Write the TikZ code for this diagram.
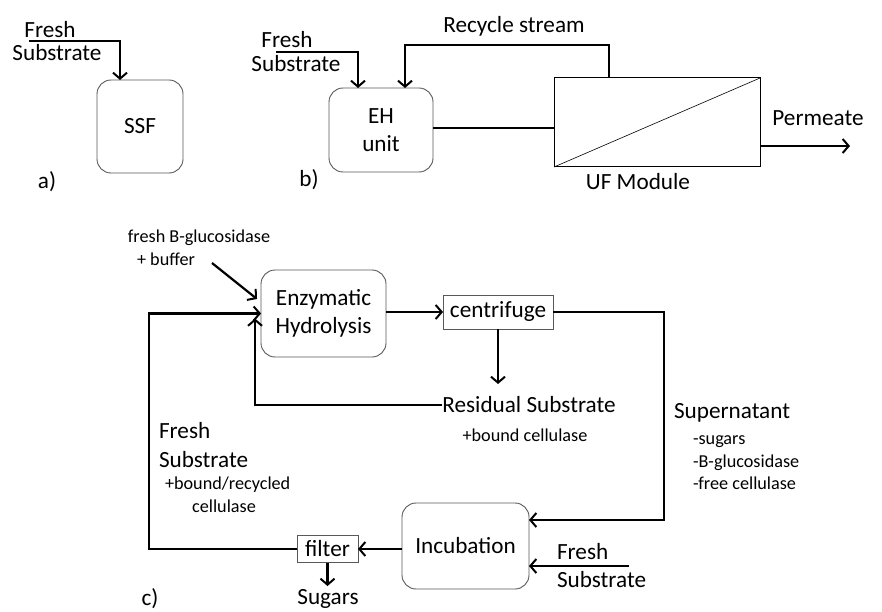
\documentclass[tikz,border=0pt]{standalone}
\usepackage{fontspec}
\setmainfont{Carlito}
\usetikzlibrary{arrows.meta}
\begin{document}
\begin{tikzpicture}[x=1pt,y=-1pt,
  big/.style={font=\fontsize{23.2}{27.5}\selectfont, inner sep=0pt, outer sep=0pt},
  small/.style={font=\fontsize{18.2}{22.5}\selectfont, inner sep=0pt, outer sep=0pt},
  rbox/.style={draw=black!65, line width=0.9pt, rounded corners=14pt, inner sep=0pt, outer sep=0pt, align=center},
  sbox/.style={draw=black!65, line width=0.9pt, inner sep=0pt, outer sep=0pt, align=center},
  conn/.style={line width=2.2pt, line join=miter},
  arr/.style={conn, -{Straight Barb[length=6pt,width=14pt,line width=2pt]}}
]
\useasboundingbox (0,0) rectangle (882,612);
\fill[white] (0,0) rectangle (882,612);

% ---------- a) ----------
\node[rbox, minimum width=86pt, minimum height=93pt, big] (ssf) at (140,126.5) {SSF};
\node[big] (fa1) at (50,30) {Fresh};
\node[big] (fa2) at (57,53) {Substrate};
\node[big] (la) at (47,182) {a)};
\coordinate (a1) at (29,41);
\draw[arr] (a1) -| ([xshift=-20pt]ssf.north);

% ---------- b) ----------
\node[rbox, minimum width=104pt, minimum height=84pt, big, align=center] (ehb) at (381,130) {EH\\unit};
\node[draw=black, line width=1pt, minimum width=206pt, minimum height=89pt, inner sep=0pt, outer sep=0pt] (uf) at (657,122.5) {};
\draw[line width=0.6pt] (uf.south west) -- (uf.north east);
\node[big] (fb1) at (287,40) {Fresh};
\node[big] (fb2) at (296,64) {Substrate};
\node[big] (rs) at (514,26) {Recycle stream};
\node[big] (perml) at (818,118) {Permeate};
\node[big] (ufl) at (638,182) {UF Module};
\node[big] (lb) at (309,180) {b)};
\coordinate (b1) at (276,52);
\coordinate (rc) at (500,45);
\coordinate (perm) at (850,146);
\draw[arr] (b1) -| ([xshift=-23pt]ehb.north);
\draw[arr] ([xshift=-48pt]uf.north) |- (rc) -| ([xshift=24pt]ehb.north);
\draw[conn] ([yshift=2pt]ehb.east) -- ([yshift=2pt]ehb.east -| uf.west);
\draw[arr] ([yshift=-23.5pt]uf.east) -- (perm);

% ---------- c) ----------
\node[rbox, minimum width=125pt, minimum height=87pt, big, align=center] (enz) at (323.5,313.5) {Enzymatic\\Hydrolysis};
\node[sbox, minimum width=110pt, minimum height=34pt, big] (cen) at (498,312) {centrifuge};
\node[rbox, minimum width=127pt, minimum height=86pt, big] (inc) at (465.5,546) {Incubation};
\node[sbox, minimum width=61pt, minimum height=27pt, big] (filt) at (327.5,549) {filter};

\node[small] (bg1) at (199,238) {fresh B-glucosidase};
\node[small] (bg2) at (166,259) {+ buffer};
\node[big] (res) at (529,405) {Residual Substrate};
\node[small] (resb) at (525,435) {+bound cellulase};
\node[big, anchor=west] (sup) at (674,413) {Supernatant};
\node[small, anchor=north west, align=left] (supl) at (693,436) {-sugars\\-B-glucosidase\\-free cellulase};
\node[big, anchor=west] (fc1) at (159,431) {Fresh};
\node[big, anchor=west] (fc2) at (159,460) {Substrate};
\node[small, anchor=west] (fc3) at (165,485) {+bound/recycled};
\node[small] (fc4) at (224,506) {cellulase};
\node[big, anchor=west] (fd1) at (557,552) {Fresh};
\node[big, anchor=west] (fd2) at (557,580) {Substrate};
\node[big] (sug) at (328,599) {Sugars};
\node[big] (lc) at (150,599) {c)};

\coordinate (bgs) at (212,263);
\coordinate (lp) at (149,450);
\coordinate (cd) at (498,384);
\coordinate (sr) at (664,312);
\coordinate (fs3) at (629,566);
\coordinate (sd) at (327.5,586);

\draw[arr] (bgs) -- ([xshift=-4pt,yshift=14.5pt]enz.west);
\draw[arr] (filt.west) -| (lp) |- (enz.west);
\draw[arr] (res.west) -| ([xshift=-6pt,yshift=-5pt]enz.west);
\draw[arr] (enz.east |- cen.west) -- (cen.west);
\draw[arr] (cen.south) -- (cd);
\draw[arr] (cen.east) -- (sr) |- ([yshift=26pt]inc.east);
\draw[arr] (fs3) -- ([yshift=-20pt]inc.east);
\draw[arr] (inc.west |- filt.east) -- (filt.east);
\draw[arr] (filt.south) -- (sd);
\end{tikzpicture}
\end{document}
